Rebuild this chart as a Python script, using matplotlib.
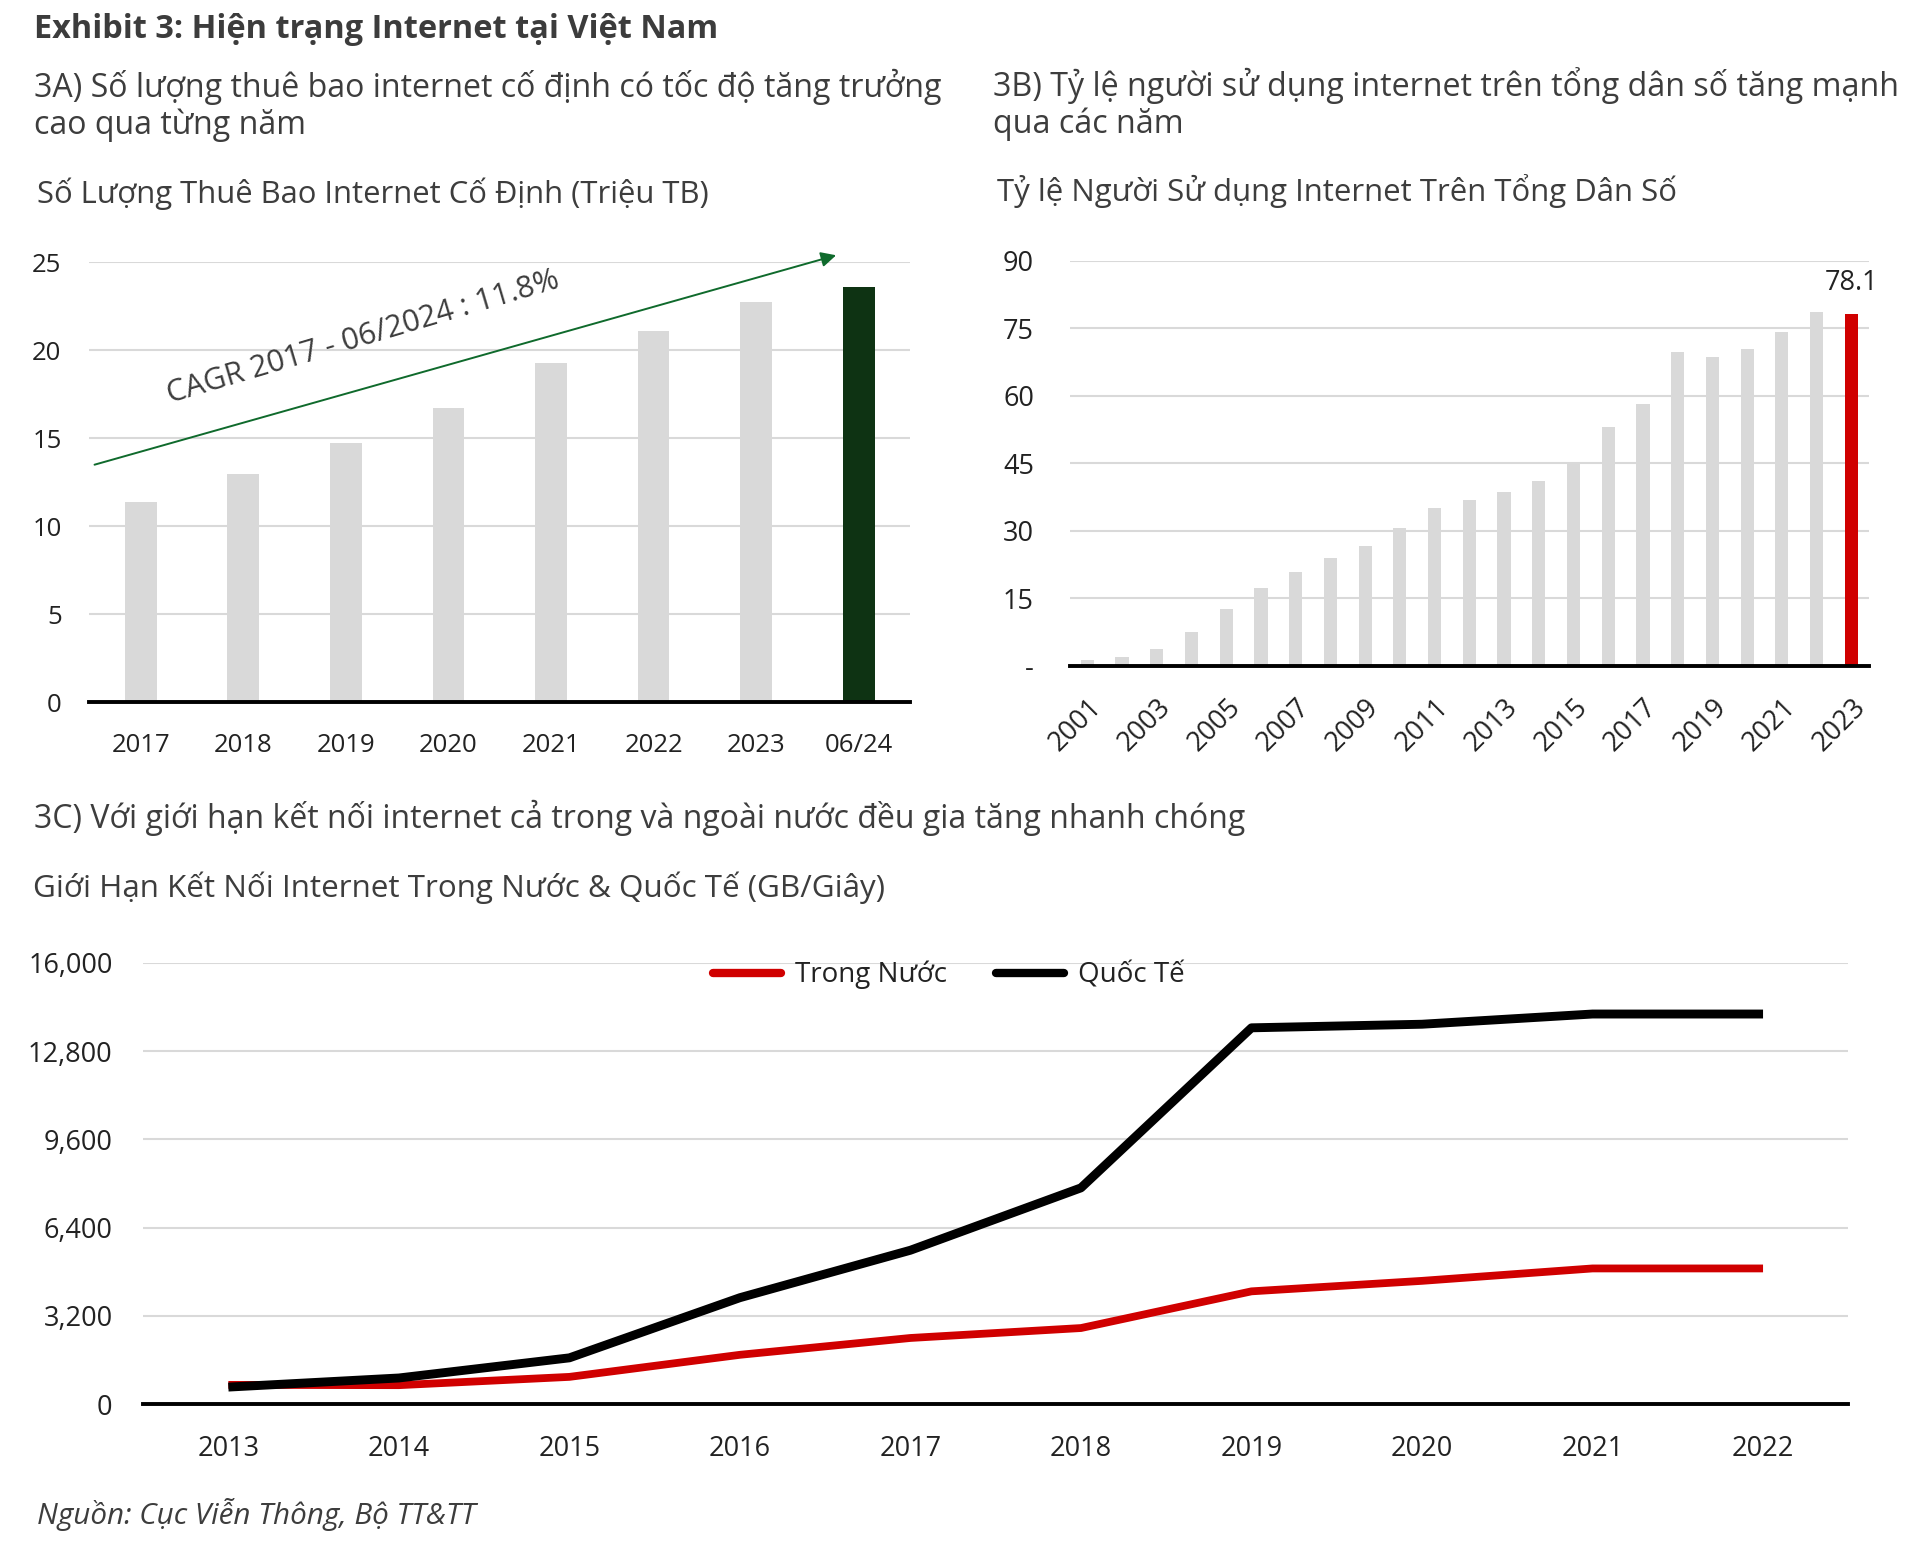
import matplotlib
matplotlib.use("Agg")
import matplotlib.pyplot as plt
from matplotlib.ticker import FuncFormatter

plt.rcParams['font.family'] = ['Open Sans', 'DejaVu Sans']

# ---------------- data ----------------
a_categories = ["2017", "2018", "2019", "2020", "2021", "2022", "2023", "06/24"]
a_values = [11.4, 12.95, 14.75, 16.7, 19.3, 21.1, 22.75, 23.6]

b_years = list(range(2001, 2024))
b_values = [1.3, 1.9, 3.8, 7.6, 12.7, 17.2, 20.8, 23.9, 26.6, 30.7, 35.1, 36.8,
            38.5, 41.0, 45.0, 53.0, 58.1, 69.8, 68.6, 70.3, 74.2, 78.6, 78.1]

c_years = ["2013", "2014", "2015", "2016", "2017", "2018", "2019", "2020", "2021", "2022"]
c_domestic = [700, 690, 990, 1790, 2400, 2760, 4090, 4470, 4920, 4920]
c_international = [620, 950, 1680, 3860, 5580, 7840, 13640, 13770, 14140, 14140]

cagr_label = "CAGR 2017 - 06/2024 : 11.8%"

# ---------------- figure ----------------
W, H = 1918, 1550
fig = plt.figure(figsize=(W / 100, H / 100), dpi=100)


def frac(left, top, right, bottom):
    return [left / W, 1 - bottom / H, (right - left) / W, (bottom - top) / H]


TXT = "#3d3d3d"
TICK = "#222222"
GRID = "#d9d9d9"


def style(ax, pad_y, pad_x, fs):
    for s in ["top", "right", "left"]:
        ax.spines[s].set_visible(False)
    ax.spines["bottom"].set_linewidth(2.8)
    ax.spines["bottom"].set_color("black")
    ax.yaxis.grid(True, color=GRID, linewidth=1.5)
    ax.set_axisbelow(True)
    ax.tick_params(axis="both", length=0, labelsize=fs, labelcolor=TICK)
    ax.tick_params(axis="y", pad=pad_y)
    ax.tick_params(axis="x", pad=pad_x)


# ---------------- Panel A ----------------
axA = fig.add_axes(frac(89.4, 262.3, 910, 702.3))
colorsA = ["#d9d9d9"] * (len(a_values) - 1) + ["#0e3313"]
axA.bar(range(len(a_values)), a_values, width=0.31, color=colorsA)
axA.set_xlim(-0.5, len(a_values) - 0.5)
axA.set_ylim(0, 25)
axA.set_yticks(range(0, 26, 5))
axA.set_xticks(range(len(a_values)))
axA.set_xticklabels(a_categories)
style(axA, 20, 22, 18.5)
axA.annotate("", xy=(6.78, 25.4), xytext=(-0.45, 13.5),
             arrowprops=dict(arrowstyle="-|>,head_length=0.9,head_width=0.45",
                             color="#0f6a2c", lw=1.4, shrinkA=0, shrinkB=0),
             annotation_clip=False)
axA.text(2.17, 20.75, cagr_label, rotation=16.5, ha="center", va="center",
         fontsize=22, color=TXT, rotation_mode="anchor")

# ---------------- Panel B ----------------
axB = fig.add_axes(frac(1070, 260.7, 1868.7, 665.7))
colorsB = ["#d9d9d9"] * (len(b_values) - 1) + ["#d00000"]
xb = list(range(len(b_values)))
axB.bar(xb, b_values, width=0.38, color=colorsB)
axB.set_xlim(-0.5, len(b_values) - 0.5)
axB.set_ylim(0, 90)
axB.set_yticks(range(0, 91, 15))
axB.yaxis.set_major_formatter(FuncFormatter(lambda v, p: "-" if v == 0 else f"{int(v)}"))
axB.set_xticks(xb[::2])
axB.set_xticklabels([str(y) for y in b_years[::2]], rotation=45, ha="right",
                    rotation_mode="anchor")
style(axB, 26, 20, 19.5)
axB.text(xb[-1], b_values[-1] + 6.9, f"{b_values[-1]:.1f}", ha="center",
         va="center", fontsize=19.5, color=TICK)

# ---------------- Panel C ----------------
axC = fig.add_axes(frac(143.1, 962.7, 1848.3, 1404.2))
xc = list(range(len(c_years)))
axC.plot(xc, c_domestic, color="#d00000", lw=5.6, solid_capstyle="butt",
         solid_joinstyle="round", label="Trong Nước", zorder=3)
axC.plot(xc, c_international, color="black", lw=6.4, solid_capstyle="butt",
         solid_joinstyle="round", label="Quốc Tế", zorder=4)
axC.set_xlim(-0.5, len(c_years) - 0.5)
axC.set_ylim(0, 16000)
axC.set_yticks(range(0, 16001, 3200))
axC.yaxis.set_major_formatter(FuncFormatter(lambda v, p: f"{int(v):,}"))
axC.set_xticks(xc)
axC.set_xticklabels(c_years)
style(axC, 22, 22, 19.5)
leg = axC.legend(loc="center left", bbox_to_anchor=(713 / W, 1 - 975 / H),
                 bbox_transform=fig.transFigure, ncol=2, frameon=False,
                 fontsize=20, handlelength=2.45, handletextpad=0.5,
                 columnspacing=1.75, borderpad=0, borderaxespad=0)
for line in leg.get_lines():
    line.set_linewidth(6)
    line.set_solid_capstyle("round")
for t in leg.get_texts():
    t.set_color(TICK)

# ---------------- Texts ----------------
def ftext(x, y, s, **kw):
    fig.text(x / W, 1 - y / H, s, va="center", ha="left", **kw)


ftext(34, 29, "Exhibit 3: Hiện trạng Internet tại Việt Nam", fontsize=23.4,
      fontweight="bold", color="#3c3c3c")
ftext(34, 86.5, "3A) Số lượng thuê bao internet cố định có tốc độ tăng trưởng",
      fontsize=23.1, color=TXT)
ftext(34, 125.5, "cao qua từng năm", fontsize=23.1, color=TXT)
ftext(36.7, 194, "Số Lượng Thuê Bao Internet Cố Định (Triệu TB)", fontsize=22.3,
      color=TXT)
ftext(993, 85.2, "3B) Tỷ lệ người sử dụng internet trên tổng dân số tăng mạnh",
      fontsize=23.2, color=TXT)
ftext(993, 124.2, "qua các năm", fontsize=23.2, color=TXT)
ftext(997, 191.5, "Tỷ lệ Người Sử dụng Internet Trên Tổng Dân Số", fontsize=22.4,
      color=TXT)
ftext(34, 818, "3C) Với giới hạn kết nối internet cả trong và ngoài nước đều gia tăng nhanh chóng",
      fontsize=23, color=TXT)
ftext(33, 887.5, "Giới Hạn Kết Nối Internet Trong Nước & Quốc Tế (GB/Giây)",
      fontsize=22.6, color=TXT)
ftext(36.7, 1514.5, "Nguồn: Cục Viễn Thông, Bộ TT&TT", fontsize=21.3, style="italic",
      color=TXT)

fig.savefig("out.png", dpi=100)
